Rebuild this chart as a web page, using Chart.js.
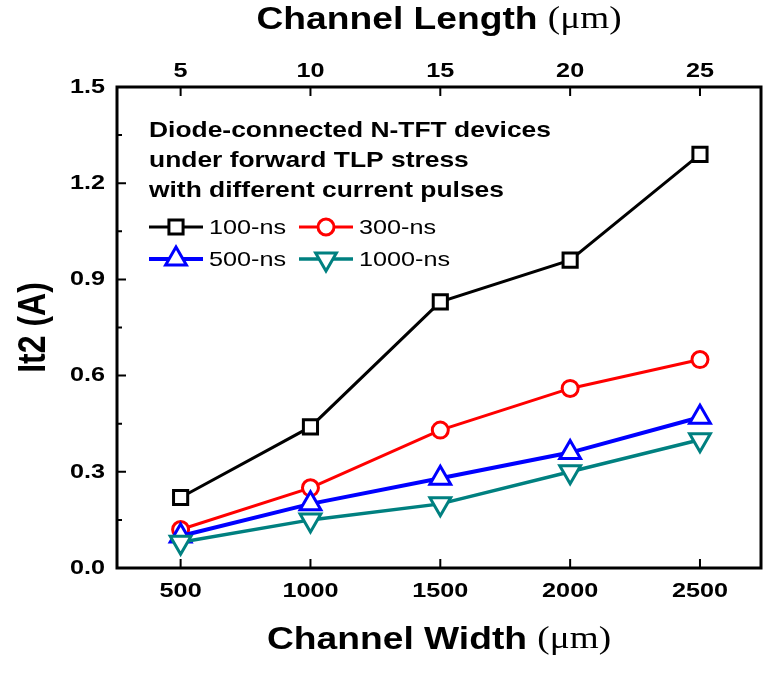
<!DOCTYPE html>
<html>
<head>
<meta charset="utf-8">
<script src="https://cdn.jsdelivr.net/npm/chart.js@4.4.1/dist/chart.umd.min.js"></script>
<style>
  html, body { margin: 0; padding: 0; background: #fff; }
  #wrap { width: 765px; height: 675px; }
</style>
</head>
<body>
<div id="wrap"><canvas id="c" width="765" height="675"></canvas></div>
<script>
// channel width on the bottom axis, channel length on the top axis
const widths = [500, 1000, 1500, 2000, 2500];
const lengthTicks = [5, 10, 15, 20, 25];
const yTicks = [0, 0.3, 0.6, 0.9, 1.2, 1.5];
const yMinorTicks = [0.15, 0.45, 0.75, 1.05, 1.35];

// It2 (A) per pulse width
const seriesNames = ['100-ns', '300-ns', '500-ns', '1000-ns'];
const it2_100 = [0.22, 0.44, 0.83, 0.96, 1.29];
const it2_300 = [0.12, 0.25, 0.43, 0.56, 0.65];
const it2_500 = [0.10, 0.20, 0.28, 0.36, 0.47];
const it2_1000 = [0.08, 0.15, 0.20, 0.30, 0.40];

const noteLines = [
  'Diode-connected N-TFT devices',
  'under forward TLP stress',
  'with different current pulses'
];

const styles = [
  { color: '#000000', pointStyle: 'rect', radius: 10, rotation: 0, lw: 3 },
  { color: '#ff0000', pointStyle: 'circle', radius: 8, rotation: 0, lw: 3 },
  { color: '#0000ff', pointStyle: 'triangle', radius: 12, rotation: 0, lw: 4 },
  { color: '#008080', pointStyle: 'triangle', radius: 12, rotation: 180, lw: 3.5 }
];
const allSeries = [it2_100, it2_300, it2_500, it2_1000];

const SANS = '"Liberation Sans", Arial, sans-serif';
const SERIF = '"Liberation Serif", "Times New Roman", serif';
const WIDE = 1.2; // the lettering is set a little wide

const datasets = allSeries.map((vals, i) => ({
  label: seriesNames[i],
  data: widths.map((w, j) => ({ x: w, y: vals[j] })),
  borderColor: styles[i].color,
  borderWidth: styles[i].lw,
  backgroundColor: '#ffffff',
  pointBackgroundColor: '#ffffff',
  pointBorderColor: styles[i].color,
  pointBorderWidth: 3,
  pointStyle: styles[i].pointStyle,
  pointRadius: styles[i].radius,
  pointRotation: styles[i].rotation,
  pointHoverRadius: styles[i].radius,
  tension: 0,
  order: allSeries.length - i,
  xAxisID: 'x',
  yAxisID: 'y'
}));

function wideText(ctx, text, x, y, align, font) {
  ctx.save();
  ctx.font = font;
  ctx.textAlign = align;
  ctx.textBaseline = 'middle';
  ctx.translate(x, y);
  ctx.scale(WIDE, 1);
  ctx.fillText(text, 0, 0);
  ctx.restore();
}

// mixed bold-sans / serif string centred at (cx, cy)
function mixedText(ctx, parts, cx, cy) {
  let total = 0;
  parts.forEach(p => { ctx.font = p.font; total += ctx.measureText(p.text).width; });
  ctx.save();
  ctx.translate(cx, cy);
  ctx.scale(WIDE, 1);
  ctx.textBaseline = 'middle';
  ctx.textAlign = 'left';
  let x = -total / 2;
  parts.forEach(p => {
    ctx.font = p.font;
    ctx.fillText(p.text, x, 0);
    x += ctx.measureText(p.text).width;
  });
  ctx.restore();
}

const decor = {
  id: 'decor',
  afterDraw(chart) {
    const { ctx, chartArea: a, scales } = chart;
    ctx.save();
    ctx.strokeStyle = '#000';
    ctx.fillStyle = '#000';

    // frame
    ctx.lineWidth = 3;
    ctx.strokeRect(a.left, a.top, a.right - a.left, a.bottom - a.top);

    // inward ticks
    ctx.lineWidth = 2;
    ctx.beginPath();
    yTicks.forEach(v => {
      const py = scales.y.getPixelForValue(v);
      ctx.moveTo(a.left, py); ctx.lineTo(a.left + 9, py);
    });
    yMinorTicks.forEach(v => {
      const py = scales.y.getPixelForValue(v);
      ctx.moveTo(a.left, py); ctx.lineTo(a.left + 5, py);
    });
    widths.forEach(v => {
      const px = scales.x.getPixelForValue(v);
      ctx.moveTo(px, a.bottom); ctx.lineTo(px, a.bottom - 9);
    });
    lengthTicks.forEach(v => {
      const px = scales.x2.getPixelForValue(v);
      ctx.moveTo(px, a.top); ctx.lineTo(px, a.top + 9);
    });
    ctx.stroke();

    // tick labels
    const tickFont = 'bold 21px ' + SANS;
    yTicks.forEach(v => wideText(ctx, v.toFixed(1), a.left - 12, scales.y.getPixelForValue(v), 'right', tickFont));
    widths.forEach(v => wideText(ctx, String(v), scales.x.getPixelForValue(v), a.bottom + 23, 'center', tickFont));
    lengthTicks.forEach(v => wideText(ctx, String(v), scales.x2.getPixelForValue(v), a.top - 16, 'center', tickFont));

    // axis titles
    const cx = (a.left + a.right) / 2;
    mixedText(ctx, [
      { text: 'Channel Width ', font: 'bold 31px ' + SANS },
      { text: '(\u03bcm)', font: '31px ' + SERIF }
    ], cx, 640);
    mixedText(ctx, [
      { text: 'Channel Length ', font: 'bold 31px ' + SANS },
      { text: '(\u03bcm)', font: '31px ' + SERIF }
    ], cx, 20);
    ctx.save();
    ctx.translate(34, (a.top + a.bottom) / 2);
    ctx.scale(WIDE, 1);
    ctx.rotate(-Math.PI / 2);
    ctx.font = 'bold 32px ' + SANS;
    ctx.textAlign = 'center';
    ctx.textBaseline = 'middle';
    ctx.fillText('It2 (A)', 0, 0);
    ctx.restore();

    // note text
    noteLines.forEach((t, i) => wideText(ctx, t, 149, 131 + i * 30, 'left', 'bold 22px ' + SANS));

    // legend entries, two per row
    const cols = [149, 299];
    const rows = [227, 259];
    seriesNames.forEach((name, i) => {
      const s = styles[i];
      const x0 = cols[i % 2], y0 = rows[Math.floor(i / 2)];
      ctx.strokeStyle = s.color;
      ctx.lineWidth = s.lw;
      ctx.beginPath();
      ctx.moveTo(x0, y0); ctx.lineTo(x0 + 54, y0);
      ctx.stroke();
      ctx.fillStyle = '#fff';
      ctx.lineWidth = 3;
      Chart.helpers.drawPoint(ctx, {
        pointStyle: s.pointStyle, radius: s.radius, rotation: s.rotation, borderWidth: 3
      }, x0 + 27, y0);
      ctx.fillStyle = '#000';
      wideText(ctx, name, x0 + 60, y0 + 1, 'left', '21px ' + SANS);
    });
    ctx.restore();
  }
};

const noPad = s => { s.paddingLeft = 0; s.paddingRight = 0; };

new Chart(document.getElementById('c'), {
  type: 'line',
  data: { datasets },
  options: {
    responsive: false,
    animation: false,
    layout: { autoPadding: false, padding: { left: 0, right: 4, top: 0, bottom: 0 } },
    plugins: { legend: { display: false }, tooltip: { enabled: false } },
    scales: {
      x: {
        type: 'linear', position: 'bottom', min: 255, max: 2735,
        afterBuildTicks: s => { s.ticks = widths.map(v => ({ value: v })); },
        afterFit: s => { s.height = 107; noPad(s); },
        grid: { display: false, drawTicks: false },
        border: { display: false },
        ticks: { display: false }
      },
      x2: {
        type: 'linear', position: 'top', min: 2.55, max: 27.35,
        afterBuildTicks: s => { s.ticks = lengthTicks.map(v => ({ value: v })); },
        afterFit: s => { s.height = 87; noPad(s); },
        grid: { display: false, drawTicks: false },
        border: { display: false },
        ticks: { display: false }
      },
      y: {
        type: 'linear', min: 0, max: 1.5,
        afterBuildTicks: s => { s.ticks = yTicks.map(v => ({ value: v })); },
        afterFit: s => { s.width = 117; },
        grid: { display: false, drawTicks: false },
        border: { display: false },
        ticks: { display: false }
      }
    }
  },
  plugins: [decor]
});
</script>
</body>
</html>
